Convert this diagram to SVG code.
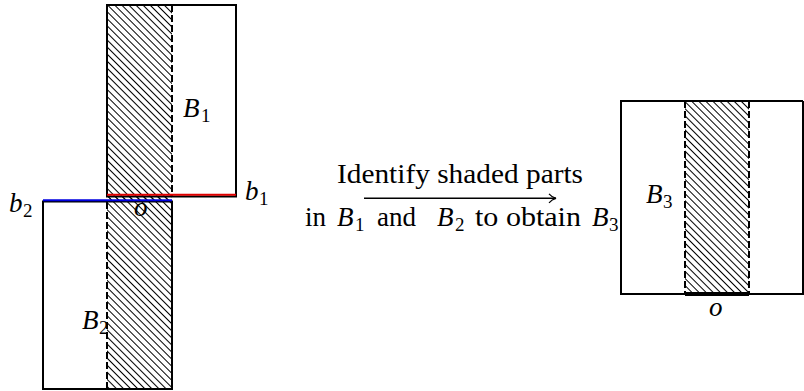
<svg xmlns="http://www.w3.org/2000/svg" width="804" height="391" viewBox="0 0 804 391">
<defs>
<pattern id="hatch" patternUnits="userSpaceOnUse" width="10" height="5" patternTransform="rotate(45)">
<line x1="0" y1="2.5" x2="10" y2="2.5" stroke="#000" stroke-width="1"/>
</pattern>
<marker id="arr" markerWidth="12" markerHeight="12" refX="9" refY="6" orient="auto" markerUnits="userSpaceOnUse">
<path d="M2,1.5 Q5,5 9,6 Q5,7 2,10.5" fill="none" stroke="#000" stroke-width="1.2"/>
</marker>
</defs>
<style>
.box{fill:none;stroke:#000;stroke-width:2}
.dash{fill:none;stroke:#000;stroke-width:2;stroke-dasharray:7 3}
.hatch{fill:url(#hatch);stroke:none}
text{font-family:"Liberation Serif","DejaVu Serif","Noto Serif",serif;font-size:27px;fill:#000}
.i{font-style:italic}
.s{font-size:19px;font-style:normal}
</style>
<g id="B1">
<rect class="hatch" x="107" y="5" width="65" height="196"/>
<path class="box" d="M172,5 H236 V196.5 H107 V5 H172"/>
<line class="dash" x1="172" y1="5" x2="172" y2="196"/>
<text x="183" y="117"><tspan class="i">B</tspan><tspan class="s" x="201" dy="5">1</tspan></text>
</g>
<g id="B2">
<rect class="hatch" x="107" y="196" width="65" height="193"/>
<path class="box" d="M107,201.5 H172 V389 H43 V201.5 H107"/>
<line class="dash" x1="107" y1="202" x2="107" y2="389"/>
<text x="82" y="329"><tspan class="i">B</tspan><tspan class="s" x="99" dy="5">2</tspan></text>
</g>
<g id="b1">
<line x1="107" y1="194.8" x2="236" y2="194.8" stroke="#e00000" stroke-width="2"/>
<text x="245" y="200"><tspan class="i">b</tspan><tspan class="s" x="259" dy="5">1</tspan></text>
</g>
<g id="b2">
<line x1="43" y1="200.2" x2="172" y2="200.2" stroke="#0000e0" stroke-width="2"/>
<text x="9" y="212"><tspan class="i">b</tspan><tspan class="s" x="23" dy="5">2</tspan></text>
</g>
<g id="o1">
<text class="i" x="134" y="216">o</text>
</g>
<g id="B3">
<rect class="hatch" x="685" y="101" width="64" height="193"/>
<path class="box" d="M803,101 H621 V294 H803 V101"/>
<line class="dash" x1="685" y1="101" x2="685" y2="294"/>
<line class="dash" x1="749" y1="101" x2="749" y2="294"/>
<line x1="685" y1="294" x2="749" y2="294" stroke="#000" stroke-width="4"/>
<text x="646" y="203"><tspan class="i">B</tspan><tspan class="s" x="663" dy="5">3</tspan></text>
<text class="i" x="709" y="316">o</text>
</g>
<g id="connectors">
<line x1="364" y1="198.3" x2="556" y2="198.3" stroke="#000" stroke-width="1.6" marker-end="url(#arr)"/>
<text x="337" y="183" textLength="246" lengthAdjust="spacingAndGlyphs">Identify shaded parts</text>
<text x="305" y="226">in<tspan class="i" x="337">B</tspan><tspan class="s" x="355" dy="5">1</tspan><tspan x="377" dy="-5">and</tspan><tspan class="i" x="437">B</tspan><tspan class="s" x="455" dy="5">2</tspan><tspan x="475" dy="-5" textLength="106" lengthAdjust="spacingAndGlyphs">to obtain</tspan><tspan class="i" x="592">B</tspan><tspan class="s" x="609" dy="5">3</tspan></text>
</g>
</svg>
